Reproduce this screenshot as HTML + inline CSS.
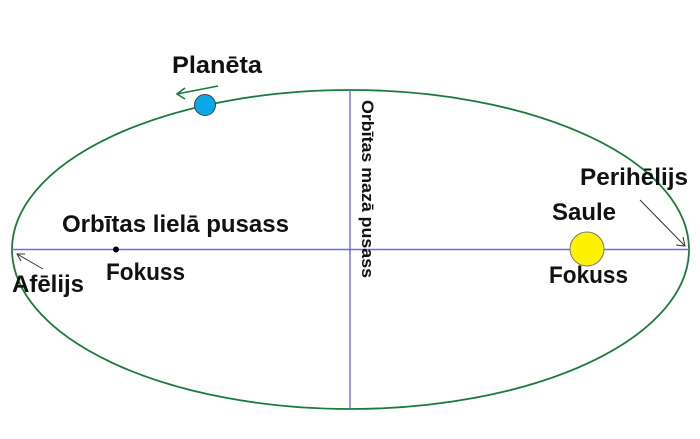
<!DOCTYPE html>
<html><head><meta charset="utf-8"><style>
html,body{margin:0;padding:0;background:#fff;}
svg{display:block;}
text{font-family:"Liberation Sans",sans-serif;font-weight:bold;fill:#111;}
</style></head><body>
<svg width="700" height="439" viewBox="0 0 700 439" xmlns="http://www.w3.org/2000/svg">
<ellipse cx="350.5" cy="249.5" rx="338.5" ry="159.5" fill="none" stroke="#1a7a3a" stroke-width="1.8"/>
<line x1="12" y1="249.5" x2="689" y2="249.5" stroke="#6a6aee" stroke-width="1.4"/>
<line x1="350" y1="90" x2="350" y2="409" stroke="#6a6aee" stroke-width="1.4"/>
<circle cx="116" cy="249.5" r="3" fill="#000"/>
<circle cx="587" cy="249" r="17" fill="#fff200" stroke="#777" stroke-width="1"/>
<circle cx="205" cy="105" r="10.5" fill="#0aa8e8" stroke="#444" stroke-width="1"/>
<g stroke="#1a7a3a" stroke-width="1.6" fill="none"><line x1="218" y1="86" x2="177" y2="94"/><polyline points="185,88 177,94 185,99"/></g>
<g stroke="#333" stroke-width="1" fill="none"><line x1="640" y1="200" x2="685" y2="246"/><polyline points="676,245 685,246 683,237"/></g>
<g stroke="#333" stroke-width="1" fill="none"><line x1="43" y1="269" x2="17" y2="254"/><polyline points="25,254 17,254 21,261"/></g>
<text x="172" y="73" font-size="24" textLength="90" lengthAdjust="spacingAndGlyphs">Planēta</text>
<text x="62" y="232" font-size="24" textLength="227" lengthAdjust="spacingAndGlyphs">Orbītas lielā pusass</text>
<text x="106" y="280" font-size="24" textLength="79" lengthAdjust="spacingAndGlyphs">Fokuss</text>
<text x="12" y="292" font-size="24" textLength="72" lengthAdjust="spacingAndGlyphs">Afēlijs</text>
<text x="580" y="185" font-size="24" textLength="108" lengthAdjust="spacingAndGlyphs">Perihēlijs</text>
<text x="552" y="220" font-size="24" textLength="64" lengthAdjust="spacingAndGlyphs">Saule</text>
<text x="549" y="283" font-size="24" textLength="79" lengthAdjust="spacingAndGlyphs">Fokuss</text>
<text transform="translate(362,100) rotate(90)" font-size="17" textLength="178" lengthAdjust="spacingAndGlyphs">Orbītas mazā pusass</text>
</svg>
</body></html>
